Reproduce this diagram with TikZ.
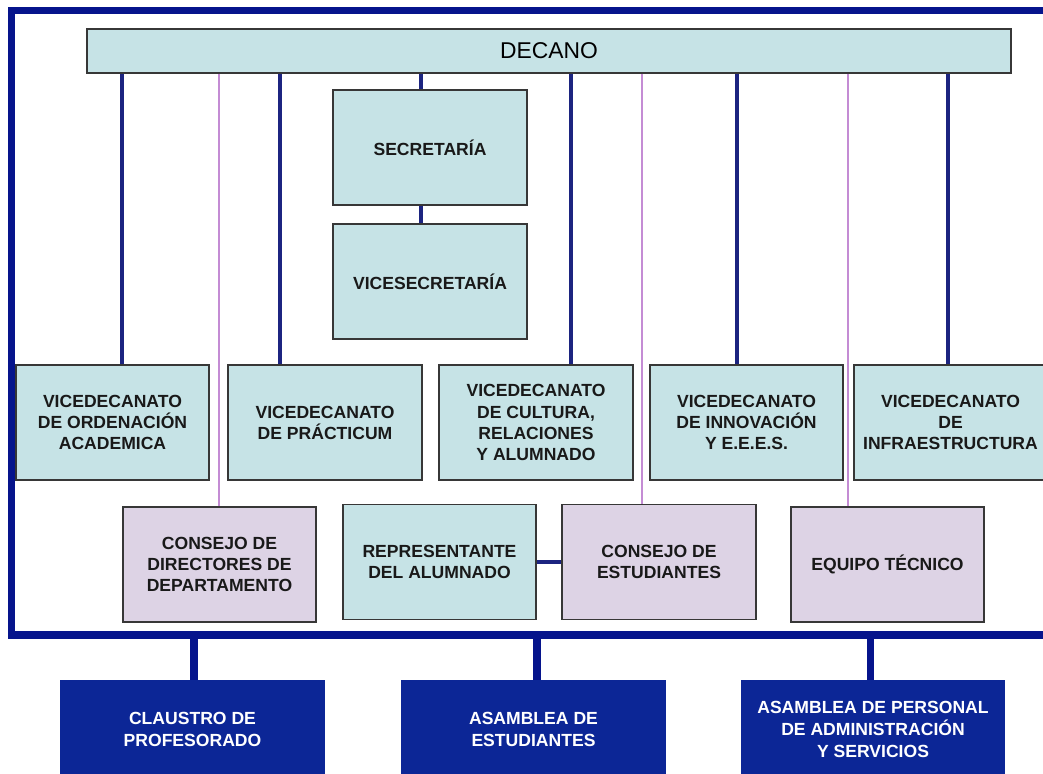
\documentclass[tikz,border=0pt]{standalone}
\usepackage{fontspec}
\setmainfont{Liberation Sans}
\definecolor{boxcyan}{RGB}{198,227,230}
\definecolor{boxlila}{RGB}{221,211,229}
\definecolor{boxline}{RGB}{55,55,55}
\definecolor{linenavy}{RGB}{28,36,128}
\definecolor{linepink}{RGB}{196,140,212}
\definecolor{rimnavy}{RGB}{6,20,140}
\definecolor{navybox}{RGB}{12,38,150}

\begin{document}
\begin{tikzpicture}[x=0.02cm, y=-0.02cm, inner sep=1mm,
  top/.style={draw=boxline, line width=1.1pt, fill=boxcyan, minimum width=18.48cm, minimum height=0.88cm, font=\fontsize{13}{15}\selectfont},
  box/.style={draw=boxline, line width=1.1pt, fill=boxcyan, minimum width=3.87cm, minimum height=2.3cm, align=center, text=black!90, font=\fontsize{10}{12}\selectfont\bfseries},
  pbox/.style={box, fill=boxlila},
  nbox/.style={fill=navybox, minimum width=5.3cm, minimum height=1.96cm, align=center, text=white, font=\fontsize{10}{12.5}\selectfont\bfseries},
  vline/.style={draw=linenavy, line width=2pt},
  pline/.style={draw=linepink, line width=0.8pt},
  rim/.style={draw=rimnavy, line width=4pt}]
\useasboundingbox (0,0) rectangle (1043,773);
\clip (0,0) rectangle (1043,773);
\draw[rim] (1070,10.5) -- (11.5,10.5) -- (11.5,635) -- (1070,635);
\node (decano) at (549,51) [top] {DECANO};
\node (secre) at (430,147.5) [box] {SECRETARÍA};
\node (vicesecre) at (430,281.5) [box] {VICESECRETARÍA};
\node (ordenacion) at (112.5,422.5) [box] {VICEDECANATO\\DE ORDENACIÓN\\ACADEMICA};
\node (practicum) at (325,422.5) [box] {VICEDECANATO\\DE PRÁCTICUM};
\node (cultura) at (536,422.5) [box] {VICEDECANATO\\DE CULTURA,\\RELACIONES\\Y ALUMNADO};
\node (innovacion) at (746.5,422.5) [box] {VICEDECANATO\\DE INNOVACIÓN\\Y E.E.E.S.};
\node (infra) at (950.5,422.5) [box] {VICEDECANATO\\DE\\INFRAESTRUCTURA};
\node (directores) at (219.5,564.5) [pbox] {CONSEJO DE\\DIRECTORES DE\\DEPARTAMENTO};
\node (representante) at (439.5,562) [box] {REPRESENTANTE\\DEL ALUMNADO};
\node (estudiantes) at (659,562) [pbox] {CONSEJO DE\\ESTUDIANTES};
\node (equipo) at (887.5,564.5) [pbox] {EQUIPO TÉCNICO};
\node (claustro) at (192.5,729) [nbox] {CLAUSTRO DE\\PROFESORADO};
\node (asamblea) at (533.5,729) [nbox] {ASAMBLEA DE\\ESTUDIANTES};
\node (pas) at (873,729) [nbox] {ASAMBLEA DE PERSONAL\\DE ADMINISTRACIÓN\\Y SERVICIOS};
\draw[vline] (decano.south -| 122,0) -- (ordenacion.north -| 122,0);
\draw[vline] (decano.south -| 280,0) -- (practicum.north -| 280,0);
\draw[vline] (decano.south -| 421,0) -- (secre.north -| 421,0);
\draw[vline] (secre.south -| 421,0) -- (vicesecre.north -| 421,0);
\draw[vline] (decano.south -| 571,0) -- (cultura.north -| 571,0);
\draw[vline] (decano.south -| 737,0) -- (innovacion.north -| 737,0);
\draw[vline] (decano.south -| 948,0) -- (infra.north -| 948,0);
\draw[pline] (decano.south -| 219,0) -- (directores.north -| 219,0);
\draw[pline] (decano.south -| 642,0) -- (estudiantes.north -| 642,0);
\draw[pline] (decano.south -| 848,0) -- (equipo.north -| 848,0);
\draw[vline] (representante.east) -- (estudiantes.west);
\coordinate (f1) at (194,635);
\coordinate (f2) at (537,635);
\coordinate (f3) at (870,635);
\draw[rim] (f1) -- (claustro.north -| f1);
\draw[rim] (f2) -- (asamblea.north -| f2);
\draw[rim] (f3) -- (pas.north -| f3);
\end{tikzpicture}
\end{document}
